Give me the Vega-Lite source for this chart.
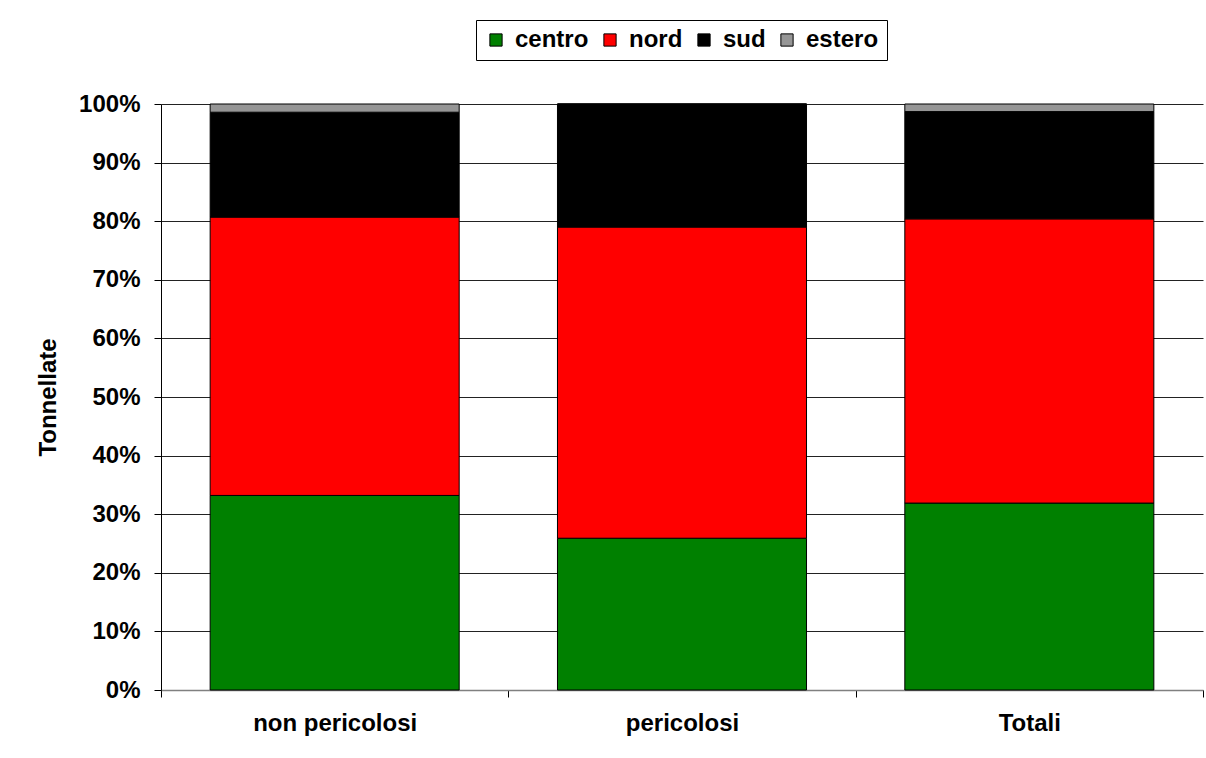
{
  "$schema": "https://vega.github.io/schema/vega-lite/v6.json",
  "width": 1042,
  "height": 586,
  "autosize": {"type": "none"},
  "padding": {"top": 104, "left": 161, "right": 3, "bottom": 68},
  "background": "white",
  "config": {
    "view": {"stroke": null},
    "font": "Liberation Sans"
  },
  "data": {
    "values": [
      {"categoria": "non pericolosi", "provenienza": "centro", "ord": 1, "quota": 0.332},
      {"categoria": "non pericolosi", "provenienza": "nord", "ord": 2, "quota": 0.475},
      {"categoria": "non pericolosi", "provenienza": "sud", "ord": 3, "quota": 0.179},
      {"categoria": "non pericolosi", "provenienza": "estero", "ord": 4, "quota": 0.014},
      {"categoria": "pericolosi", "provenienza": "centro", "ord": 1, "quota": 0.259},
      {"categoria": "pericolosi", "provenienza": "nord", "ord": 2, "quota": 0.531},
      {"categoria": "pericolosi", "provenienza": "sud", "ord": 3, "quota": 0.210},
      {"categoria": "pericolosi", "provenienza": "estero", "ord": 4, "quota": 0.0},
      {"categoria": "Totali", "provenienza": "centro", "ord": 1, "quota": 0.319},
      {"categoria": "Totali", "provenienza": "nord", "ord": 2, "quota": 0.485},
      {"categoria": "Totali", "provenienza": "sud", "ord": 3, "quota": 0.183},
      {"categoria": "Totali", "provenienza": "estero", "ord": 4, "quota": 0.013}
    ]
  },
  "mark": {"type": "bar", "stroke": "black", "strokeWidth": 1, "width": {"band": 0.717}},
  "encoding": {
    "x": {
      "field": "categoria",
      "type": "nominal",
      "sort": ["non pericolosi", "pericolosi", "Totali"],
      "scale": {"paddingInner": 0, "paddingOuter": 0},
      "axis": {
        "title": null,
        "labelAngle": 0,
        "labelFont": "Liberation Sans",
        "labelFontSize": 24,
        "labelFontWeight": "bold",
        "labelColor": "black",
        "labelPadding": 14,
        "tickBand": "extent",
        "tickSize": 7,
        "tickColor": "#000000",
        "domainColor": "#808080",
        "domainWidth": 1.5
      }
    },
    "y": {
      "field": "quota",
      "type": "quantitative",
      "stack": "zero",
      "scale": {"domain": [0, 1], "nice": false},
      "axis": {
        "title": "Tonnellate",
        "titleFont": "Liberation Sans",
        "titleFontSize": 24,
        "titleFontWeight": "bold",
        "titleColor": "black",
        "titlePadding": 18,
        "values": [0, 0.1, 0.2, 0.3, 0.4, 0.5, 0.6, 0.7, 0.8, 0.9, 1.0],
        "format": ".0%",
        "labelFont": "Liberation Sans",
        "labelFontSize": 24,
        "labelFontWeight": "bold",
        "labelColor": "black",
        "labelPadding": 14,
        "tickSize": 7,
        "tickColor": "black",
        "domainColor": "black",
        "grid": true,
        "gridColor": "#222222",
        "gridWidth": 1
      }
    },
    "color": {
      "field": "provenienza",
      "type": "nominal",
      "scale": {
        "domain": ["centro", "nord", "sud", "estero"],
        "range": ["#008000", "#FF0000", "#000000", "#969696"]
      },
      "legend": {
        "title": null,
        "orient": "none",
        "legendX": 315,
        "legendY": -84,
        "direction": "horizontal",
        "symbolType": "square",
        "symbolSize": 150,
        "symbolStrokeColor": "black",
        "symbolStrokeWidth": 1,
        "symbolOpacity": 1,
        "labelFont": "Liberation Sans",
        "labelFontSize": 24,
        "labelFontWeight": "bold",
        "labelColor": "black",
        "labelOffset": 7,
        "columnPadding": 9,
        "padding": 8,
        "strokeColor": "black",
        "fillColor": "white"
      }
    },
    "order": {"field": "ord", "type": "quantitative"}
  }
}
